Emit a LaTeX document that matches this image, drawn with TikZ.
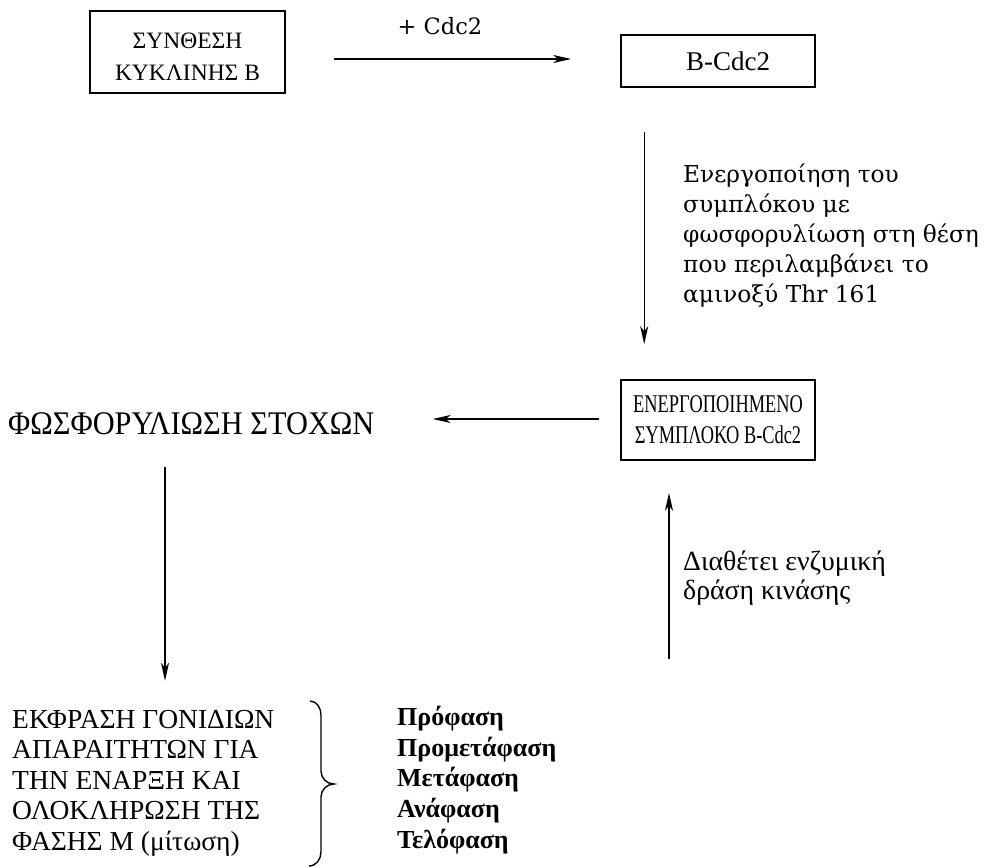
\documentclass[tikz,border=0pt]{standalone}
\usepackage{fontspec}
\setmainfont{Liberation Serif}
\newfontfamily\geo{DejaVu Serif}
\newfontfamily\condf[FakeStretch=0.72]{Liberation Serif}
\newfontfamily\condt[FakeStretch=0.92]{Liberation Serif}
\usetikzlibrary{arrows.meta}
\begin{document}
\begin{tikzpicture}[x=1pt,y=-1pt,
  box/.style={draw, line width=1.6pt, align=center, inner sep=0pt},
  arr/.style={-{Stealth[length=18pt,width=8pt,inset=5pt]}, line width=1.4pt},
  lbl/.style={align=left, inner sep=0pt, anchor=west}]
\useasboundingbox (0,0) rectangle (986,868);

\coordinate (xl) at (165,0);
\coordinate (u0) at (669,659);

\node[box, minimum width=195pt, minimum height=82pt, font=\fontsize{23.5}{32}\selectfont] (b1) at (187.5,52) {\rule{0pt}{25pt}ΣΥΝΘΕΣΗ\\ΚΥΚΛΙΝΗΣ Β};
\node[box, minimum width=194pt, minimum height=52pt, font=\fontsize{27}{32}\selectfont] (b2) at (718,61) {\hspace*{20pt}B-Cdc2};
\node[font=\geo\fontsize{22.5}{24}\selectfont] (l1) at (440,26) {+ Cdc2};
\draw[arr, shorten <=48pt, shorten >=49pt] ([yshift=-7pt]b1.east) -- ([yshift=-7pt]b1.east -| b2.west);

\node[box, minimum width=194pt, minimum height=80pt, font=\condf\fontsize{25.5}{31}\selectfont] (b3) at (718,420) {ΕΝΕΡΓΟΠΟΙΗΜΕΝΟ\\ΣΥΜΠΛΟΚΟ B-Cdc2};
\draw[arr, shorten <=44pt, shorten >=35pt] ([xshift=24pt]b2.south west) -- ([xshift=24pt]b2.south west |- b3.north);
\node[lbl, font=\geo\fontsize{23.3}{30}\selectfont] (l2) at (683,236) {Ενεργοποίηση του\\συμπλόκου με\\φωσφορυλίωση στη θέση\\που περιλαμβάνει το\\αμινοξύ Thr 161};

\node[inner sep=0pt, anchor=west, font=\condt\fontsize{33}{36}\selectfont] (t) at (8,424) {ΦΩΣΦΟΡΥΛΙΩΣΗ ΣΤΟΧΩΝ};
\draw[arr, shorten <=21pt, shorten >=58pt] ([yshift=1pt]b3.west) -- ([yshift=1pt]b3.west -| t.east);

\node[lbl, font=\fontsize{27.5}{30.5}\selectfont] (e) at (12,783) {ΕΚΦΡΑΣΗ ΓΟΝΙΔΙΩΝ\\ΑΠΑΡΑΙΤΗΤΩΝ ΓΙΑ\\ΤΗΝ ΕΝΑΡΞΗ ΚΑΙ\\ΟΛΟΚΛΗΡΩΣΗ ΤΗΣ\\ΦΑΣΗΣ Μ (μίτωση)};
\draw[arr, shorten <=32pt, shorten >=29pt] (t.south -| xl) -- (e.north -| xl);

\node[lbl, font=\bfseries\fontsize{26}{30.8}\selectfont] (p) at (397,780) {Πρόφαση\\Προμετάφαση\\Μετάφαση\\Ανάφαση\\Τελόφαση};

\draw[line width=1.4pt] (310,701) to[out=0,in=90] (321,715) -- (321,771) to[out=-90,in=180] (334,784) to[out=180,in=90] (321,797) -- (321,852) to[out=-90,in=0] (309,866);

\draw[arr, shorten >=32pt] (u0) -- (u0 |- b3.south);
\node[lbl, font=\fontsize{27.8}{28.5}\selectfont] (l3) at (683,578) {Διαθέτει ενζυμική\\δράση κινάσης};
\end{tikzpicture}
\end{document}
